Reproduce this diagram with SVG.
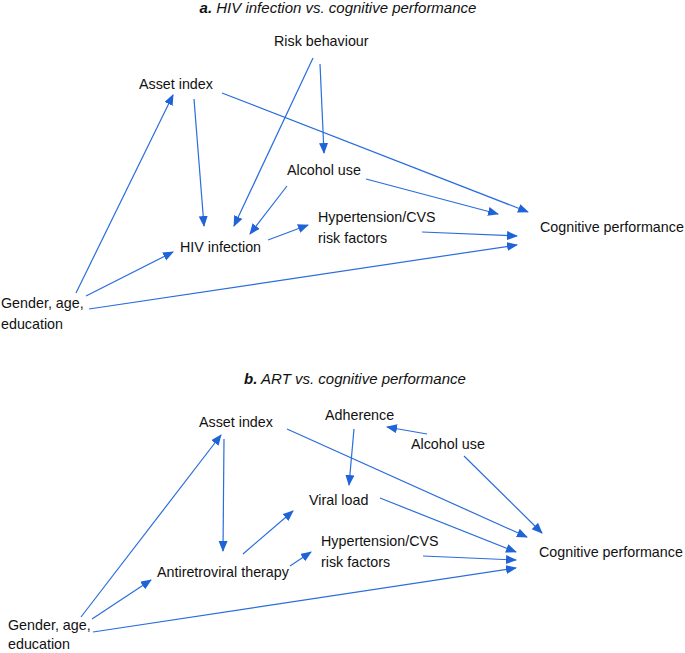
<svg xmlns="http://www.w3.org/2000/svg" width="685" height="653" viewBox="0 0 685 653">
<defs>
<marker id="ah" markerUnits="userSpaceOnUse" markerWidth="12" markerHeight="10" refX="10" refY="4.5" orient="auto">
<path d="M0,0 L11,4.5 L0,9 z" fill="#1f63d8"/>
</marker>
<style>
text{font-family:"Liberation Sans",Arial,sans-serif;font-size:14.3px;fill:#111}
.t{font-size:15px;font-style:italic;text-anchor:middle}
.c line{stroke:#2a6ddc;stroke-width:1.2;marker-end:url(#ah)}
</style>
</defs>
<rect width="685" height="653" fill="#fff"/>
<text class="t" x="338" y="13"><tspan font-weight="bold">a.</tspan> HIV infection vs. cognitive performance</text>
<text class="t" x="355" y="384"><tspan font-weight="bold">b.</tspan> ART vs. cognitive performance</text>

<g id="a-risk"><text x="274" y="46">Risk behaviour</text></g>
<g id="a-asset"><text x="139" y="89">Asset index</text></g>
<g id="a-alcohol"><text x="287" y="175">Alcohol use</text></g>
<g id="a-hyp"><text x="318" y="222">Hypertension/CVS</text><text x="318" y="243">risk factors</text></g>
<g id="a-hiv"><text x="180" y="252">HIV infection</text></g>
<g id="a-cog"><text x="540" y="232">Cognitive performance</text></g>
<g id="a-gender"><text x="1" y="308">Gender, age,</text><text x="1" y="329">education</text></g>

<g id="b-asset"><text x="199" y="427">Asset index</text></g>
<g id="b-adherence"><text x="325" y="420">Adherence</text></g>
<g id="b-alcohol"><text x="411" y="449">Alcohol use</text></g>
<g id="b-viral"><text x="309" y="505">Viral load</text></g>
<g id="b-hyp"><text x="321" y="546">Hypertension/CVS</text><text x="321" y="567">risk factors</text></g>
<g id="b-art"><text x="157" y="577">Antiretroviral therapy</text></g>
<g id="b-cog"><text x="539" y="557">Cognitive performance</text></g>
<g id="b-gender"><text x="8" y="630">Gender, age,</text><text x="8" y="649">education</text></g>

<g id="connectors" class="c">
<line x1="313" y1="58" x2="234" y2="226"/>
<line x1="320" y1="64" x2="324" y2="153"/>
<line x1="194" y1="99" x2="204" y2="226"/>
<line x1="287" y1="186" x2="250" y2="234"/>
<line x1="222" y1="93" x2="528" y2="212"/>
<line x1="366" y1="179" x2="498" y2="214"/>
<line x1="268" y1="240" x2="308" y2="225"/>
<line x1="422" y1="232" x2="517" y2="236"/>
<line x1="76" y1="293" x2="173" y2="95"/>
<line x1="86" y1="296" x2="173" y2="252"/>
<line x1="89" y1="309" x2="517" y2="245"/>

<line x1="224" y1="439" x2="223" y2="551"/>
<line x1="287" y1="429" x2="527" y2="537"/>
<line x1="354" y1="429" x2="349" y2="485"/>
<line x1="427" y1="434" x2="387" y2="427"/>
<line x1="464" y1="456" x2="542" y2="533"/>
<line x1="380" y1="498" x2="516" y2="552"/>
<line x1="243" y1="554" x2="293" y2="511"/>
<line x1="290" y1="566" x2="311" y2="552"/>
<line x1="423" y1="556" x2="516" y2="560"/>
<line x1="81" y1="617" x2="221" y2="435"/>
<line x1="92" y1="619" x2="151" y2="580"/>
<line x1="93" y1="632" x2="516" y2="568"/>
</g>
</svg>
